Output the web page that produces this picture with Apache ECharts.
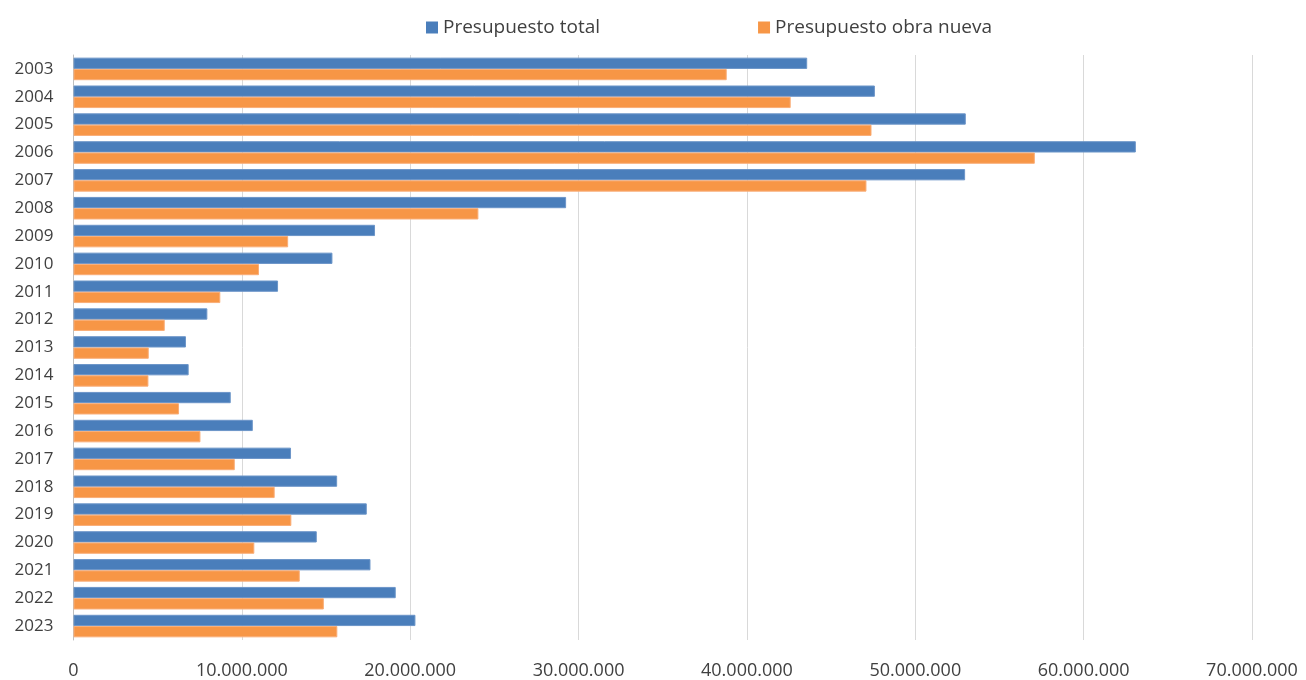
<!DOCTYPE html>
<html>
<head>
<meta charset="utf-8">
<script src="https://cdn.jsdelivr.net/npm/echarts@6/dist/echarts.min.js"></script>
<style>
  html, body { margin: 0; padding: 0; background: #ffffff; }
  #chart { width: 1306px; height: 680px; }
</style>
</head>
<body>
<div id="chart"></div>
<script>
// Budget per year (euros)
const years = ['2003','2004','2005','2006','2007','2008','2009','2010','2011','2012','2013',
               '2014','2015','2016','2017','2018','2019','2020','2021','2022','2023'];
const totalBudget = [43580000, 47600000, 53000000, 63100000, 52960000, 29260000, 17910000,
                     15380000, 12150000, 7950000, 6680000, 6840000, 9340000, 10650000,
                     12920000, 15660000, 17420000, 14450000, 17640000, 19140000, 20310000];
const newWorksBudget = [38800000, 42600000, 47400000, 57100000, 47100000, 24050000, 12750000,
                        11020000, 8720000, 5420000, 4470000, 4450000, 6270000, 7540000,
                        9580000, 11950000, 12940000, 10740000, 13440000, 14870000, 15670000];
const seriesNames = ['Presupuesto total', 'Presupuesto obra nueva'];

const fontFamily = '"Open Sans", "Noto Sans", sans-serif';
const textColor = '#404040';

function dotThousands(v) {
  return String(Math.round(v)).replace(/\B(?=(\d{3})+(?!\d))/g, '.');
}

const chart = echarts.init(document.getElementById('chart'), null, { renderer: 'canvas' });
chart.setOption({
  animation: false,
  backgroundColor: '#ffffff',
  textStyle: { fontFamily: fontFamily, color: textColor },
  legend: {
    left: 421,
    top: 13,
    itemWidth: 12,
    itemHeight: 12,
    itemGap: 158,
    icon: 'rect',
    itemStyle: { borderWidth: 0 },
    textStyle: { fontSize: 19, color: textColor, fontFamily: fontFamily },
    data: seriesNames
  },
  grid: { left: 73.5, right: 54, top: 55, bottom: 40, containLabel: false },
  xAxis: {
    type: 'value',
    min: 0,
    max: 70000000,
    interval: 10000000,
    axisLine: { show: false },
    axisTick: { show: false },
    splitLine: { show: true, lineStyle: { color: '#d9d9d9', width: 1 } },
    axisLabel: {
      fontSize: 18,
      color: textColor,
      margin: 22,
      fontFamily: fontFamily,
      formatter: dotThousands
    }
  },
  yAxis: {
    type: 'category',
    data: years,
    inverse: true,
    axisLine: { show: true, lineStyle: { color: '#bfbfbf', width: 1 } },
    axisTick: { show: false },
    splitLine: { show: false },
    axisLabel: { fontSize: 17, color: textColor, margin: 20, padding: [4, 0, 0, 0], fontFamily: fontFamily }
  },
  series: [
    {
      name: seriesNames[0],
      type: 'bar',
      data: totalBudget,
      barGap: '0%',
      barCategoryGap: '19%',
      itemStyle: { color: '#4a7ebb', borderColor: '#6b95c8', borderWidth: 1 }
    },
    {
      name: seriesNames[1],
      type: 'bar',
      data: newWorksBudget,
      barGap: '0%',
      barCategoryGap: '19%',
      itemStyle: { color: '#f79646', borderColor: '#f9ad77', borderWidth: 1 }
    }
  ]
});
</script>
</body>
</html>
